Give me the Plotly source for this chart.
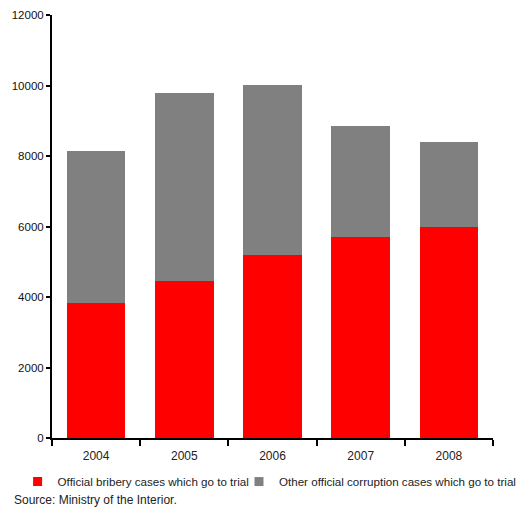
import plotly.graph_objects as go

years = ["2004", "2005", "2006", "2007", "2008"]
bribery = [3820, 4440, 5200, 5690, 6000]
total = [8150, 9790, 10010, 8860, 8400]
other = [t - b for t, b in zip(total, bribery)]
y_ticks = [0, 2000, 4000, 6000, 8000, 10000, 12000]
y_labels = [str(v) for v in y_ticks]

RED = "#ff0000"
GREY = "#808080"
name1 = "Official bribery cases which go to trial"
name2 = "Other official corruption cases which go to trial"

fig = go.Figure()
fig.add_trace(go.Bar(x=years, y=bribery, name=name1, showlegend=False,
                     marker=dict(color=RED, line=dict(width=0))))
fig.add_trace(go.Bar(x=years, y=other, name=name2, showlegend=False,
                     marker=dict(color=GREY, line=dict(width=0))))
# legend entries with small square swatches
fig.add_trace(go.Scatter(x=[None], y=[None], mode="markers", name=name1, legend="legend",
                         marker=dict(symbol="square", size=9, color=RED)))
fig.add_trace(go.Scatter(x=[None], y=[None], mode="markers", name=name2, legend="legend2",
                         marker=dict(symbol="square", size=9, color=GREY)))

legend_font = dict(size=11.6, color="#222")
fig.update_layout(
    barmode="stack",
    bargap=0.335,
    width=516, height=508,
    margin=dict(l=52, r=23, t=15, b=70, autoexpand=False),
    paper_bgcolor="white", plot_bgcolor="white",
    font=dict(family="Liberation Sans, Arial, sans-serif", size=12, color="#222"),
    showlegend=True,
    legend=dict(orientation="h", x=-0.078, y=-0.103, xanchor="left", yanchor="middle",
                font=legend_font, itemwidth=30, bgcolor="rgba(0,0,0,0)"),
    legend2=dict(orientation="h", x=0.424, y=-0.103, xanchor="left", yanchor="middle",
                 font=legend_font, itemwidth=30, bgcolor="rgba(0,0,0,0)"),
    xaxis=dict(showline=True, linecolor="black", linewidth=2, ticks="outside",
               tickson="boundaries", ticklen=6, tickwidth=2, tickcolor="black",
               showgrid=False, zeroline=False, ticklabelstandoff=6,
               tickfont=dict(size=12)),
    yaxis=dict(range=[0, 12000], tickvals=y_ticks, ticktext=y_labels, showline=True,
               linecolor="black", linewidth=2, ticks="outside", ticklen=4, tickwidth=2,
               tickcolor="black", showgrid=False, zeroline=False,
               tickfont=dict(size=11.5, color="#111")),
    annotations=[dict(text="Source: Ministry of the Interior.", xref="paper", yref="paper",
                      x=(12 - 52) / 441, y=-62.5 / 424, xanchor="left", yanchor="middle",
                      showarrow=False, font=dict(size=12, color="#222"))],
)
fig.write_html("out.html")
